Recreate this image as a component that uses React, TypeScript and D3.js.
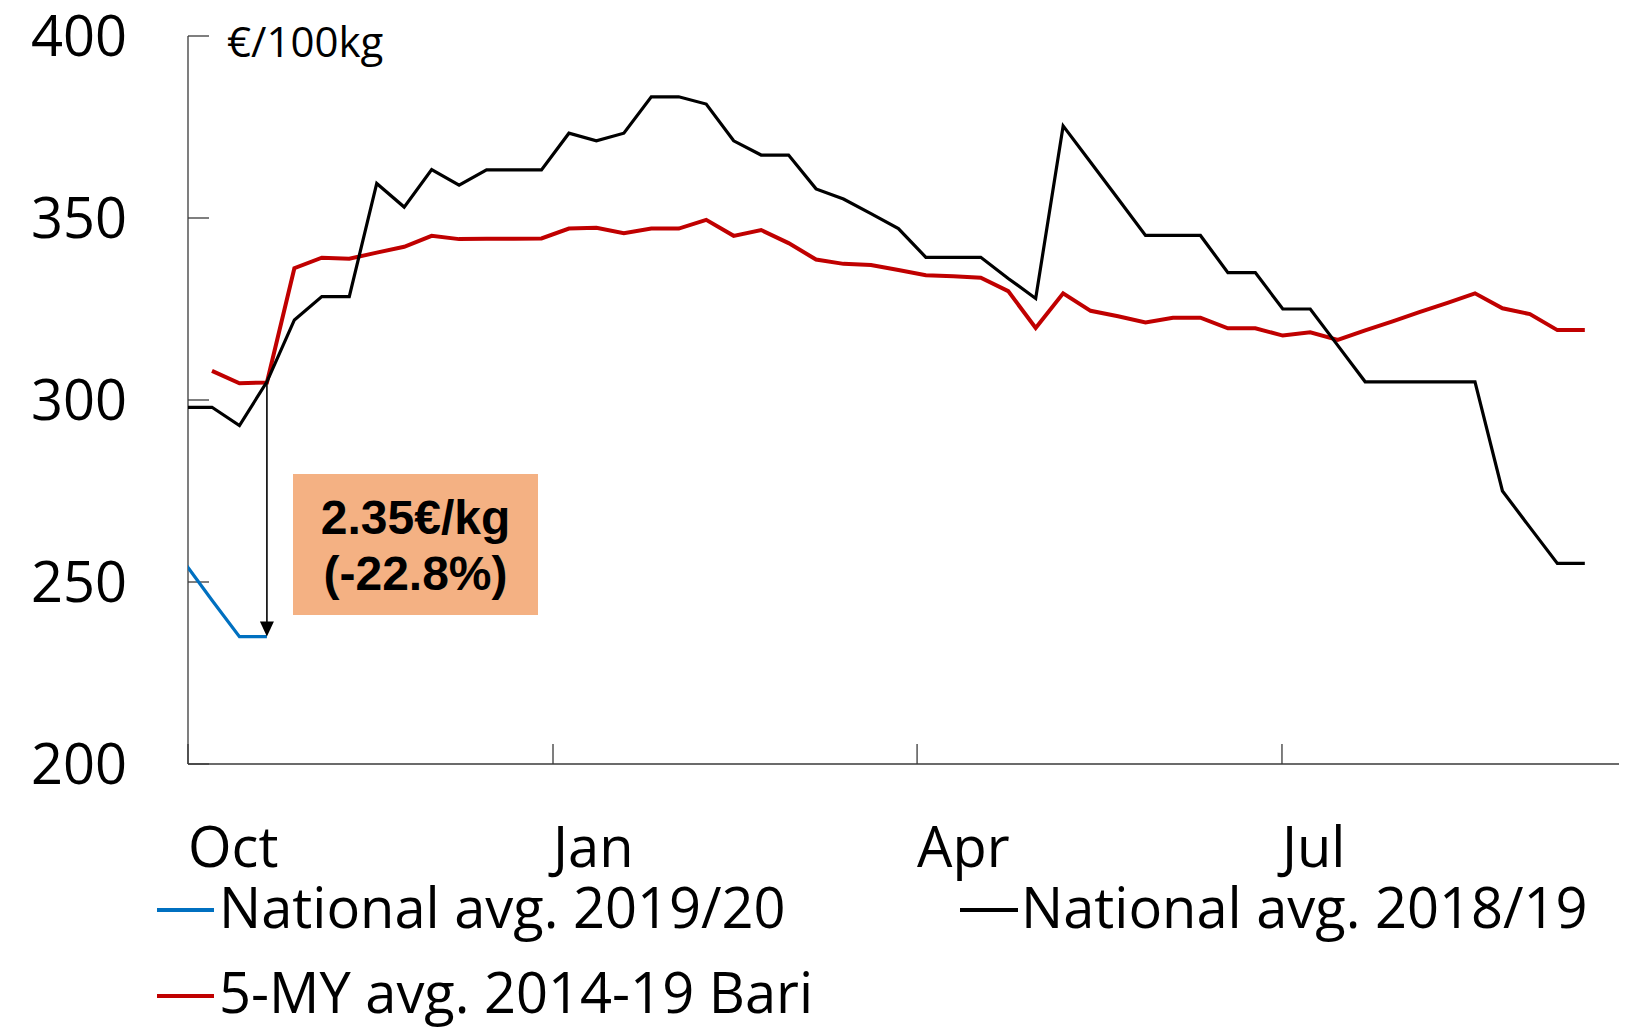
import React from "react";
import * as d3 from "d3";

// ---- Data (weekly observations, index 0 = first week of October) ----
const yTicks = [200, 250, 300, 350, 400];
const monthLabels = ["Oct", "Jan", "Apr", "Jul"];
const monthTickPos = [-0.874, 12.42, 25.68, 38.97]; // week-index positions of month starts

// National avg. 2018/19 (starts at week -1, clipped by the axis)
const nat1819Start = -1;
const nat1819 = [
  298, 298, 293, 305, 322, 328.4, 328.4, 359.5, 353, 363.3, 359, 363.2, 363.2,
  363.2, 373.3, 371.2, 373.3, 383.3, 383.3, 381.3, 371.2, 367.3, 367.3, 358,
  355.2, 351.2, 347.1, 339.2, 339.2, 339.2, 333.4, 327.9, 375.3, 365.3, 355.3,
  345.2, 345.2, 345.2, 335, 335, 325, 325, 315, 305, 305, 305, 305, 305, 275,
  265, 255.1, 255.1,
];

// 5-MY avg. 2014-19 Bari
const bariStart = 0;
const bari5y = [
  308, 304.6, 304.8, 336.2, 339.1, 338.8, 340.5, 342.1, 345.1, 344.2, 344.3,
  344.3, 344.4, 347.1, 347.3, 345.8, 347.1, 347.1, 349.5, 345.1, 346.7, 343.1,
  338.6, 337.4, 337.1, 335.7, 334.3, 334.0, 333.6, 329.9, 319.8, 329.3, 324.5,
  323.0, 321.3, 322.6, 322.6, 319.7, 319.7, 317.7, 318.6, 316.5, 319.1, 321.6,
  324.2, 326.7, 329.3, 325.2, 323.6, 319.2, 319.2,
];

// National avg. 2019/20
const nat1920Start = -1;
const nat1920 = [255.3, 245, 235, 235];

const arrowWeek = 2;
const arrowFrom = 305;
const arrowTo = 235;
const annotationLines = ["2.35€/kg", "(-22.8%)"];

const legendItems = [
  { label: "National avg. 2019/20", color: "#0070C0" },
  { label: "National avg. 2018/19", color: "#000000" },
  { label: "5-MY avg. 2014-19 Bari", color: "#C00000" },
];

const unitLabel = "€/100kg";

export default function App() {
  const W = 1636;
  const H = 1028;
  const x0 = 188;
  const x1 = 1619;
  const yTop = 36;
  const yBot = 764;

  const x = d3.scaleLinear().domain([-0.874, 51.245]).range([x0, x1]);
  const y = d3.scaleLinear().domain([200, 400]).range([yBot, yTop]);

  const toPts = (vals: number[], start: number) =>
    vals.map((v, i) => [start + i, v] as [number, number]);

  const line = d3
    .line<[number, number]>()
    .x((d) => x(d[0]))
    .y((d) => y(d[1]));

  const font = "'Open Sans', 'DejaVu Sans', sans-serif";
  const axisColor = "#3a3a3a";

  const ax = x(arrowWeek);
  const ay1 = y(arrowFrom);
  const ay2 = y(arrowTo);

  return (
    <div style={{ position: "absolute", left: 0, top: 0 }}>
      <svg width={W} height={H} style={{ display: "block", background: "#fff" }}>
        <defs>
          <clipPath id="plot">
            <rect x={x0} y={0} width={x1 - x0} height={yBot} />
          </clipPath>
        </defs>
        <rect x={0} y={0} width={W} height={H} fill="#fff" />

        {/* axes */}
        <line x1={x0} x2={x0} y1={yTop} y2={yBot} stroke={axisColor} strokeWidth={1.3} />
        <line x1={x0} x2={x1} y1={yBot} y2={yBot} stroke={axisColor} strokeWidth={1.3} />
        {yTicks.map((t) => (
          <g key={t}>
            <line x1={x0} x2={x0 + 21} y1={y(t)} y2={y(t)} stroke={axisColor} strokeWidth={1.3} />
            <text
              x={127}
              y={y(t) + 20}
              textAnchor="end"
              fontFamily={font}
              fontSize={56}
              fill="#000"
            >
              {t}
            </text>
          </g>
        ))}
        {monthTickPos.map((p, i) => (
          <g key={monthLabels[i]}>
            <line x1={x(p)} x2={x(p)} y1={yBot} y2={yBot - 20} stroke={axisColor} strokeWidth={1.3} />
            <text x={x(p)} y={867} fontFamily={font} fontSize={56} fill="#000">
              {monthLabels[i]}
            </text>
          </g>
        ))}

        <text x={227} y={57} fontFamily={font} fontSize={42} fill="#000">
          {unitLabel}
        </text>

        {/* series */}
        <g clipPath="url(#plot)" fill="none" strokeLinejoin="miter" strokeLinecap="butt">
          <path d={line(toPts(bari5y, bariStart)) || ""} stroke="#C00000" strokeWidth={4} />
          <path d={line(toPts(nat1819, nat1819Start)) || ""} stroke="#000" strokeWidth={3.2} />
          <path d={line(toPts(nat1920, nat1920Start)) || ""} stroke="#0070C0" strokeWidth={3.2} />
        </g>

        {/* arrow annotation */}
        <line x1={ax} x2={ax} y1={ay1} y2={ay2 - 14} stroke="#000" strokeWidth={1.6} />
        <path
          d={`M${ax - 7},${ay2 - 15} L${ax + 7},${ay2 - 15} L${ax},${ay2} Z`}
          fill="#000"
        />

        <rect x={293} y={474} width={245} height={141} fill="#F4B183" />
        {annotationLines.map((t, i) => (
          <text
            key={t}
            x={415.5}
            y={534 + i * 56}
            textAnchor="middle"
            fontFamily="'Liberation Sans', Arial, sans-serif"
            fontWeight="bold"
            fontSize={48}
            fill="#000"
          >
            {t}
          </text>
        ))}

        {/* legend */}
        <line x1={157} x2={214} y1={910} y2={910} stroke={legendItems[0].color} strokeWidth={4} />
        <text x={219} y={928} fontFamily={font} fontSize={56} fill="#000">
          {legendItems[0].label}
        </text>
        <line x1={960} x2={1018} y1={910} y2={910} stroke={legendItems[1].color} strokeWidth={4} />
        <text x={1021} y={928} fontFamily={font} fontSize={56} fill="#000">
          {legendItems[1].label}
        </text>
        <line x1={157} x2={214} y1={996} y2={996} stroke={legendItems[2].color} strokeWidth={4} />
        <text x={219} y={1013} fontFamily={font} fontSize={56} fill="#000">
          {legendItems[2].label}
        </text>
      </svg>
    </div>
  );
}
